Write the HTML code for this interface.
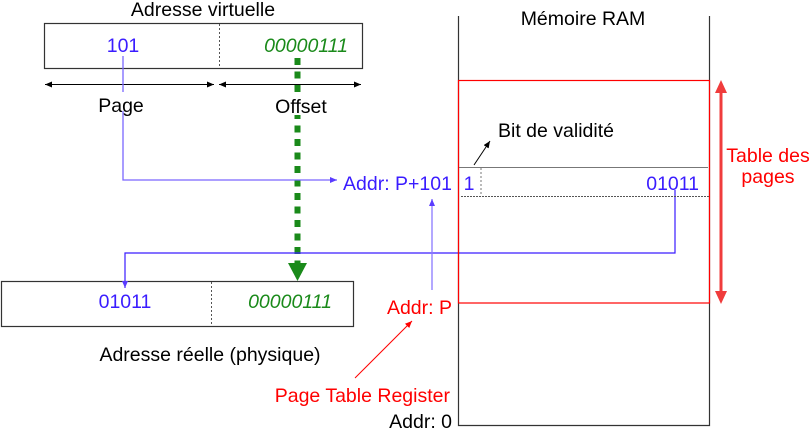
<!DOCTYPE html>
<html><head><meta charset="utf-8"><style>
html,body{margin:0;padding:0;background:#fff;}
svg{display:block;font-family:"Liberation Sans",sans-serif;}
</style></head><body>
<svg width="812" height="430" viewBox="0 0 812 430" xmlns="http://www.w3.org/2000/svg" font-size="19.5">
<defs>
<marker id="ab" markerWidth="8" markerHeight="8" refX="7" refY="3" orient="auto" markerUnits="userSpaceOnUse"><path d="M0,0 L7,3 L0,6 Z" fill="#000"/></marker>
<marker id="ab2" markerWidth="8" markerHeight="8" refX="0" refY="3" orient="auto" markerUnits="userSpaceOnUse"><path d="M7,0 L0,3 L7,6 Z" fill="#000"/></marker>
<marker id="abl" markerWidth="8" markerHeight="8" refX="7" refY="3" orient="auto" markerUnits="userSpaceOnUse"><path d="M0,0 L7,3 L0,6 Z" fill="#5a3cff"/></marker>
<marker id="ar" markerWidth="8" markerHeight="8" refX="7" refY="3" orient="auto" markerUnits="userSpaceOnUse"><path d="M0,0 L7,3 L0,6 Z" fill="#f00"/></marker>
</defs>
<!-- virtual address -->
<text x="203" y="16" text-anchor="middle">Adresse virtuelle</text>
<rect x="44.5" y="23.5" width="318" height="45" fill="none" stroke="#333" stroke-width="1.2"/>
<line x1="219.5" y1="24" x2="219.5" y2="68" stroke="#555" stroke-dasharray="2,2"/>
<text x="123" y="52" fill="#3a1cff" text-anchor="middle">101</text>
<text x="306" y="52" fill="#1a8a1a" font-style="italic" text-anchor="middle">00000111</text>
<line x1="45" y1="84.5" x2="214" y2="84.5" stroke="#000" marker-end="url(#ab)" marker-start="url(#ab2)"/>
<line x1="219" y1="84.5" x2="361" y2="84.5" stroke="#000" marker-end="url(#ab)" marker-start="url(#ab2)"/>
<!-- green dotted -->
<line x1="297.5" y1="58" x2="297.5" y2="263" stroke="#1a8a1a" stroke-width="6" stroke-dasharray="7,6.5"/>
<path d="M288,263 L307,263 L297.5,281 Z" fill="#1a8a1a"/>
<!-- blue page line -->
<polyline points="123,56 123,180 337,180" fill="none" stroke="#7a66ff" stroke-width="1.3" marker-end="url(#abl)"/>
<rect x="96" y="92" width="50" height="19" fill="#fff"/>
<rect x="272" y="92" width="60" height="23" fill="#fff"/>
<text x="121" y="112" text-anchor="middle">Page</text>
<text x="301" y="113" text-anchor="middle">Offset</text>
<text x="343" y="190" fill="#3a1cff">Addr: P+101</text>
<!-- physical -->
<rect x="1.5" y="281.5" width="352" height="45" fill="none" stroke="#333" stroke-width="1.2"/>
<line x1="211.5" y1="282" x2="211.5" y2="326" stroke="#555" stroke-dasharray="2,2"/>
<text x="125" y="308" fill="#3a1cff" text-anchor="middle">01011</text>
<text x="290" y="308" fill="#1a8a1a" font-style="italic" text-anchor="middle">00000111</text>
<text x="210" y="361" text-anchor="middle">Adresse réelle (physique)</text>
<polyline points="675,190 675,253 125,253 125,288" fill="none" stroke="#3a1cff" stroke-width="1.2" marker-end="url(#abl)"/>
<line x1="432" y1="290" x2="432" y2="199" stroke="#8a78ff" stroke-width="1.3" marker-end="url(#abl)"/>
<text x="452" y="314" fill="#f00" text-anchor="end">Addr: P</text>
<line x1="355" y1="378" x2="412" y2="321" stroke="#f00" stroke-width="1" marker-end="url(#ar)"/>
<text x="450" y="402" fill="#f00" text-anchor="end">Page Table Register</text>
<text x="452" y="428" text-anchor="end">Addr: 0</text>
<!-- RAM -->
<text x="583" y="25" text-anchor="middle">Mémoire RAM</text>
<polyline points="458.5,16 458.5,425.5 709.5,425.5 709.5,16" fill="none" stroke="#333" stroke-width="1.2"/>
<rect x="458.5" y="80.5" width="251" height="222.5" fill="none" stroke="#f00" stroke-width="1.2"/>
<line x1="459" y1="167.5" x2="708" y2="167.5" stroke="#777" stroke-width="1"/>
<line x1="461" y1="196.5" x2="710" y2="196.5" stroke="#555" stroke-dasharray="2,1"/>
<line x1="481" y1="168" x2="481" y2="196" stroke="#777" stroke-dasharray="2,2"/>
<text x="469" y="190" fill="#3a1cff" text-anchor="middle">1</text>
<text x="699" y="190" fill="#3a1cff" text-anchor="end">01011</text>
<line x1="474" y1="165" x2="490" y2="141" stroke="#000" marker-end="url(#ab)"/>
<text x="498" y="137">Bit de validité</text>
<!-- Table des pages arrow -->
<line x1="721" y1="90" x2="721" y2="294" stroke="#f03c3c" stroke-width="3"/>
<path d="M715,93 L721,80 L727,93 Z" fill="#f03c3c"/>
<path d="M715,291 L721,304 L727,291 Z" fill="#f03c3c"/>
<text x="768" y="162" fill="#f00" text-anchor="middle">Table des</text>
<text x="768" y="183" fill="#f00" text-anchor="middle">pages</text>
</svg>
</body></html>
